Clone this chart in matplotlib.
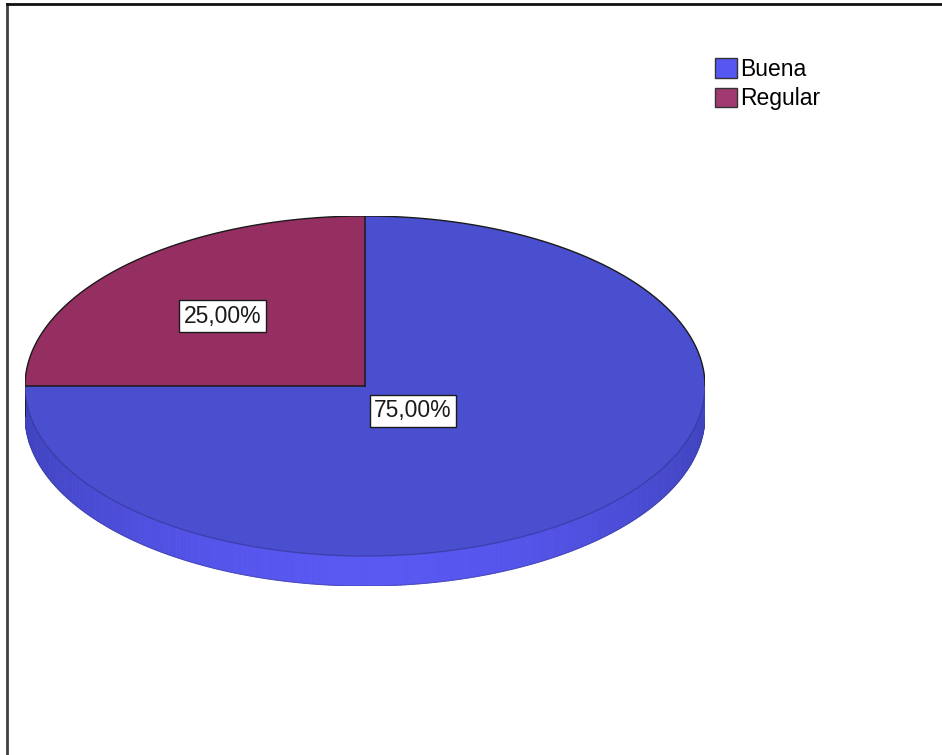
import numpy as np
import matplotlib
matplotlib.use("Agg")
import matplotlib.pyplot as plt
from matplotlib.collections import PolyCollection
from matplotlib.patches import Patch
from matplotlib.lines import Line2D

categories = ["Buena", "Regular"]
percentages = [75.0, 25.0]
face_colors = ["#4a4fcf", "#952f62"]
legend_colors = ["#5656f0", "#a23a72"]

plt.rcParams["font.family"] = ["Liberation Sans", "DejaVu Sans"]

W, H = 942, 755
fig = plt.figure(figsize=(W / 100, H / 100), dpi=100)
fig.patch.set_facecolor("white")

# pie geometry in pixels (top face ellipse + extruded side)
cx, cy, rx, ry, depth = 365, 386, 340, 170, 30
d = depth / ry
ax = fig.add_axes([(cx - rx) / W, (H - (cy + ry + depth)) / H,
                   2 * rx / W, (2 * ry + depth) / H])

# side band of the disc (front half only), shaded toward the edges
t = np.linspace(np.pi, 2 * np.pi, 241)
polys, cols = [], []
light = np.array([88, 88, 242]) / 255
dark = np.array([64, 68, 192]) / 255
for a0, a1 in zip(t[:-1], t[1:]):
    xs0, ys0 = np.cos(a0), np.sin(a0)
    xs1, ys1 = np.cos(a1), np.sin(a1)
    polys.append([(xs0, ys0), (xs1, ys1), (xs1, ys1 - d), (xs0, ys0 - d)])
    am = 0.5 * (a0 + a1)
    w = abs(np.cos(am)) ** 2.2
    cols.append(tuple(light * (1 - w) + dark * w))
side = PolyCollection(polys, facecolors=cols, edgecolors=cols, linewidths=0.6, zorder=1)
ax.add_collection(side)
tb = np.linspace(np.pi, 2 * np.pi, 300)
ax.plot(np.cos(tb), np.sin(tb) - d, color="#3a3a90", lw=0.8, alpha=0.5, zorder=2)
ax.plot([-1, -1], [0, -d], color="#111111", lw=1.2, zorder=2)
ax.plot([1, 1], [0, -d * 0.4], color="#222244", lw=0.8, zorder=2)

wedges, _ = ax.pie(percentages, colors=face_colors, startangle=180,
                   counterclock=True, radius=1,
                   wedgeprops=dict(linewidth=0))
for wdg in wedges:
    wdg.set_zorder(3)

# outline: dark on the back rim and the slice boundaries, soft on the front rim
tu = np.linspace(0, np.pi, 300)
ax.plot(np.cos(tu), np.sin(tu), color="#1a1a1a", lw=1.0, zorder=4)
ax.plot(np.cos(tb), np.sin(tb), color="#35359a", lw=1.0, alpha=0.7, zorder=4)
for wdg in wedges:
    a = np.deg2rad(wdg.theta1)
    ax.plot([0, np.cos(a)], [0, np.sin(a)], color="#1a1a1a", lw=1.1, zorder=4)

ax.set_aspect("auto")
ax.set_xlim(-1, 1)
ax.set_ylim(-1 - d, 1)
ax.axis("off")

# percentage labels
label_pos = [(0.141, -0.147), (-0.42, 0.41)]
for val, (lx, ly) in zip(percentages, label_pos):
    ax.text(lx, ly, f"{val:.2f}%".replace(".", ","), ha="center", va="center",
            fontsize=16.5, color="#1a1a1a", zorder=5,
            bbox=dict(boxstyle="square,pad=0.2", facecolor="white",
                      edgecolor="#1a1a1a", linewidth=1.0))

# legend
handles = [Patch(facecolor=c, edgecolor="#333333", linewidth=1.0) for c in legend_colors]
fig.legend(handles, categories, loc="upper left",
           bbox_to_anchor=(715 / W, 1 - 58 / H), frameon=False,
           fontsize=16.5, handlelength=0.95, handleheight=0.95,
           handletextpad=0.15, labelspacing=0.28, borderpad=0, borderaxespad=0)

# outer frame (left and top edges)
fig.add_artist(Line2D([7 / W, 7 / W], [0, 1 - 4 / H], transform=fig.transFigure,
                      color="#404040", lw=2))
fig.add_artist(Line2D([7 / W, 1], [1 - 4 / H, 1 - 4 / H], transform=fig.transFigure,
                      color="#111111", lw=2))

fig.savefig("out.png", dpi=100)
